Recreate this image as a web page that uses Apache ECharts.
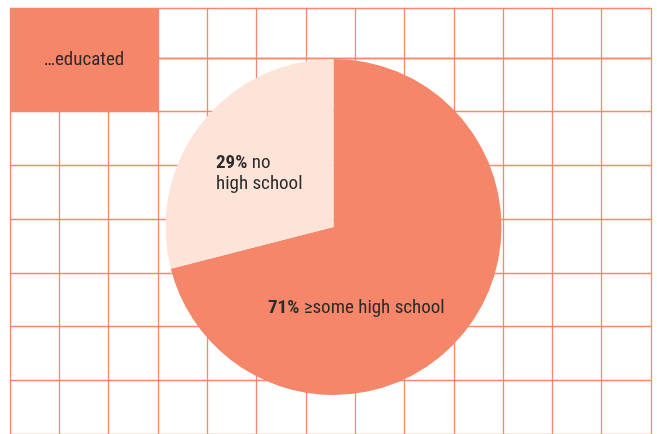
<!DOCTYPE html>
<html>
<head>
<meta charset="utf-8">
<script src="https://cdn.jsdelivr.net/npm/echarts@6/dist/echarts.min.js"></script>
<style>
  html, body { margin: 0; padding: 0; background: #ffffff; }
  #chart { width: 657px; height: 434px; }
</style>
</head>
<body>
<div id="chart"></div>
<script>
// Share of people by schooling
const categories = ['≥some high school', 'no high school'];
const shares = [71, 29];
const sliceColors = ['#F5866A', '#FDE3D8'];
const titleText = '…educated';

const gridColor = '#F6896C';
const fontFamily = '"Roboto Condensed", "Liberation Sans Narrow", Roboto, sans-serif';
const textColor = '#2b2b2b';

const chart = echarts.init(document.getElementById('chart'), null, { renderer: 'canvas' });

const lineStyle = { color: gridColor, width: 1.3 };
function xAx(gridIndex) {
  return {
    type: 'value', gridIndex, min: 0, max: 13, interval: 1,
    axisLine: { show: false }, axisTick: { show: false }, axisLabel: { show: false },
    splitLine: { show: true, lineStyle }
  };
}
function yAx(gridIndex, max) {
  return {
    type: 'value', gridIndex, min: 0, max, interval: 1, inverse: true,
    axisLine: { show: false }, axisTick: { show: false }, axisLabel: { show: false },
    splitLine: { show: true, lineStyle }
  };
}

const boldRich = { b: { fontWeight: 'bold', fontSize: 19, fontFamily: fontFamily, fill: textColor } };

const option = {
  backgroundColor: '#ffffff',
  animation: false,
  grid: [
    { left: 10, width: 641, top: 8, height: 50 },
    { left: 10, width: 641, top: 58, height: 378 }
  ],
  xAxis: [xAx(0), xAx(1)],
  yAxis: [yAx(0, 1), yAx(1, 7)],
  series: [{
    type: 'pie',
    center: [333.5, 227],
    radius: 168,
    startAngle: 90,
    clockwise: true,
    z: 5,
    label: { show: false },
    labelLine: { show: false },
    itemStyle: { borderWidth: 0 },
    data: categories.map((name, i) => ({
      name, value: shares[i], itemStyle: { color: sliceColors[i] }
    }))
  }],
  graphic: [
    {
      type: 'rect', z: 10,
      shape: { x: 10, y: 8, width: 148, height: 104 },
      style: { fill: '#F5866A' }
    },
    {
      type: 'text', z: 11, x: 84, y: 60,
      style: {
        text: titleText, fill: textColor, font: '19px ' + fontFamily,
        align: 'center', verticalAlign: 'middle'
      }
    },
    {
      type: 'text', z: 11, x: 216, y: 174,
      style: {
        text: '{b|' + shares[1] + '%} no\nhigh school',
        fill: textColor, font: '19px ' + fontFamily, lineHeight: 21,
        align: 'left', verticalAlign: 'middle',
        rich: boldRich
      }
    },
    {
      type: 'text', z: 11, x: 268, y: 308,
      style: {
        text: '{b|' + shares[0] + '%} ' + categories[0],
        fill: textColor, font: '19px ' + fontFamily,
        align: 'left', verticalAlign: 'middle',
        rich: boldRich
      }
    }
  ]
};

chart.setOption(option);
</script>
</body>
</html>
